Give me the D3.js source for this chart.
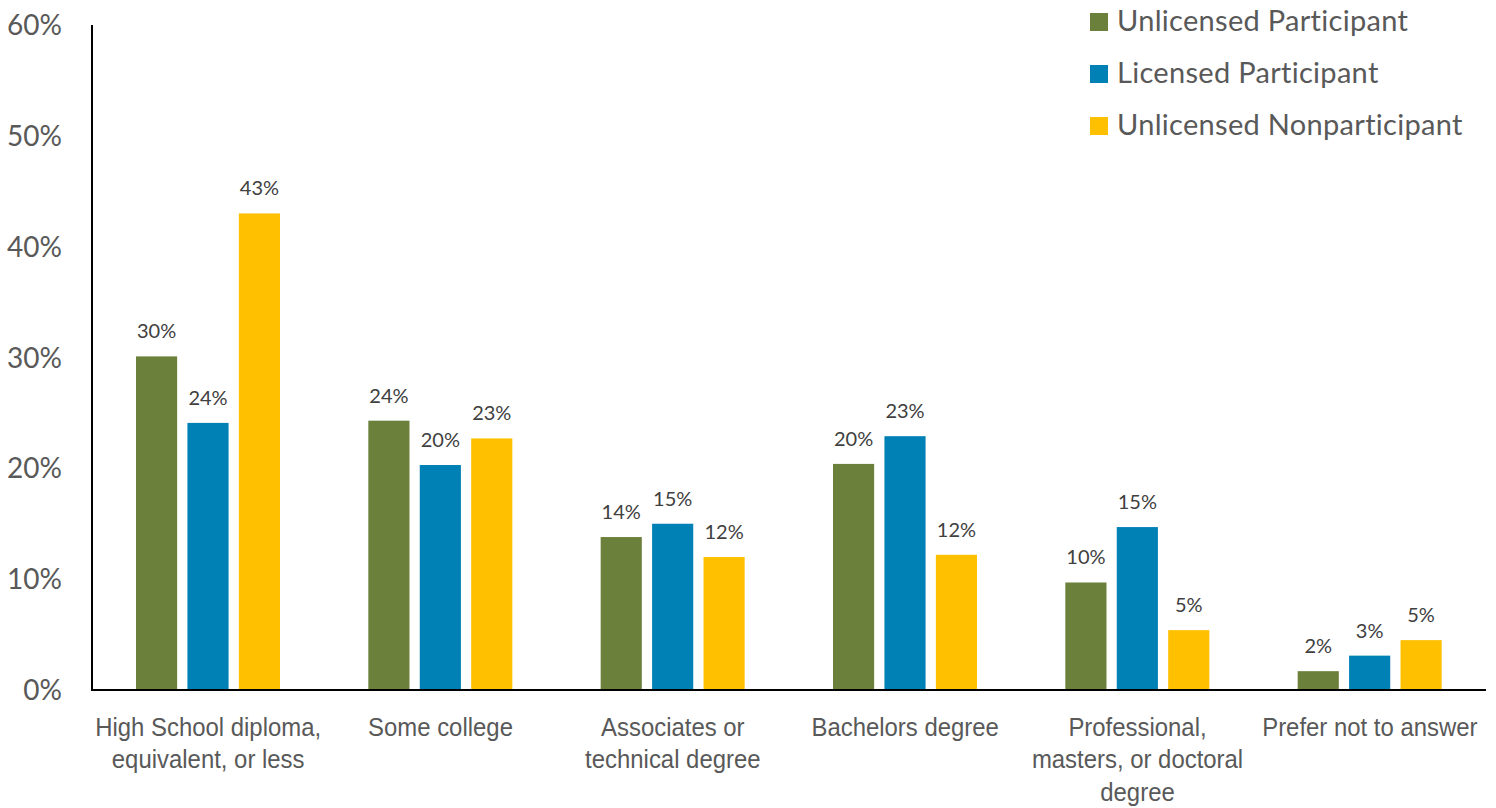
<!DOCTYPE html>
<html>
<head>
<meta charset="utf-8">
<script src="https://cdn.jsdelivr.net/npm/d3@7"></script>
<style>
  html, body { margin: 0; padding: 0; background: #fff; }
  svg { display: block; }
</style>
</head>
<body>
<svg id="chart" width="1496" height="808"></svg>
<script>
// Education level by participant group
const categories = [
  ["High School diploma,", "equivalent, or less"],
  ["Some college"],
  ["Associates or", "technical degree"],
  ["Bachelors degree"],
  ["Professional,", "masters, or doctoral", "degree"],
  ["Prefer not to answer"]
];
const seriesNames = ["Unlicensed Participant", "Licensed Participant", "Unlicensed Nonparticipant"];
const seriesColors = ["#6B803B", "#0081B5", "#FFC000"];
const unlicensedParticipant = [0.301, 0.243, 0.138, 0.204, 0.097, 0.017];
const licensedParticipant   = [0.241, 0.203, 0.150, 0.229, 0.147, 0.031];
const unlicensedNonpart     = [0.430, 0.227, 0.120, 0.122, 0.054, 0.045];
const yTicks = [0, 0.1, 0.2, 0.3, 0.4, 0.5, 0.6];

const seriesValues = [unlicensedParticipant, licensedParticipant, unlicensedNonpart];

const svg = d3.select("#chart");
const plotLeft = 92, plotRight = 1486, plotTop = 25, plotBottom = 690;
const mainFont = "Lato, 'Open Sans', sans-serif";

const x0 = d3.scaleBand().domain(d3.range(categories.length)).range([plotLeft, plotRight]);
const x1 = d3.scaleBand().domain(d3.range(seriesNames.length))
  .range([44, 188]).paddingInner(0.2);
const y = d3.scaleLinear().domain([0, 0.6]).range([plotBottom, plotTop]);

const fmt = d3.format(".0%");

// y tick labels
svg.append("g").selectAll("text").data(yTicks).join("text")
  .attr("x", 62).attr("y", d => y(d) + 10)
  .attr("text-anchor", "end")
  .attr("font-family", mainFont)
  .attr("font-size", 28)
  .attr("fill", "#595959")
  .text(fmt);

// bars and value labels
const groups = svg.append("g").selectAll("g").data(categories).join("g")
  .attr("transform", (d, i) => `translate(${x0(i)},0)`);

groups.each(function(cat, ci) {
  const g = d3.select(this);
  const data = seriesValues.map((vals, si) => ({ si, v: vals[ci] }));
  g.selectAll("rect").data(data).join("rect")
    .attr("x", d => x1(d.si))
    .attr("width", x1.bandwidth())
    .attr("y", d => y(d.v))
    .attr("height", d => y(0) - y(d.v))
    .attr("fill", d => seriesColors[d.si]);
  g.selectAll("text.val").data(data).join("text")
    .attr("class", "val")
    .attr("x", d => x1(d.si) + x1.bandwidth() / 2)
    .attr("y", d => y(d.v) - 18)
    .attr("text-anchor", "middle")
    .attr("font-family", mainFont)
    .attr("font-size", 20)
    .attr("fill", "#404040")
    .text(d => fmt(d.v));
});

// axis lines
svg.append("line")
  .attr("x1", plotLeft).attr("x2", plotLeft).attr("y1", plotTop).attr("y2", plotBottom + 1)
  .attr("stroke", "#000").attr("stroke-width", 2);
svg.append("line")
  .attr("x1", plotLeft).attr("x2", plotRight).attr("y1", plotBottom).attr("y2", plotBottom)
  .attr("stroke", "#000").attr("stroke-width", 2);

// category labels, horizontally condensed
const narrow = 0.92;
const catLabels = svg.append("g").selectAll("text").data(categories).join("text")
  .attr("transform", (d, i) => `translate(${x0(i) + x0.bandwidth() / 2},736) scale(${narrow},1)`)
  .attr("text-anchor", "middle")
  .attr("font-family", "'Liberation Sans', Arial, sans-serif")
  .attr("font-size", 26)
  .attr("fill", "#595959");
catLabels.each(function(lines) {
  d3.select(this).selectAll("tspan").data(lines).join("tspan")
    .attr("x", 0)
    .attr("dy", (d, i) => i === 0 ? 0 : 32.5)
    .text(d => d);
});

// legend
const legend = svg.append("g").selectAll("g").data(seriesNames).join("g")
  .attr("transform", (d, i) => `translate(1090, ${13 + i * 52})`);
legend.append("rect").attr("width", 18).attr("height", 18)
  .attr("fill", (d, i) => seriesColors[i]);
legend.append("text")
  .attr("x", 27).attr("y", 18)
  .attr("font-family", mainFont)
  .attr("font-size", 29)
  .attr("letter-spacing", 0.3)
  .attr("fill", "#595959")
  .text(d => d);
</script>
</body>
</html>
